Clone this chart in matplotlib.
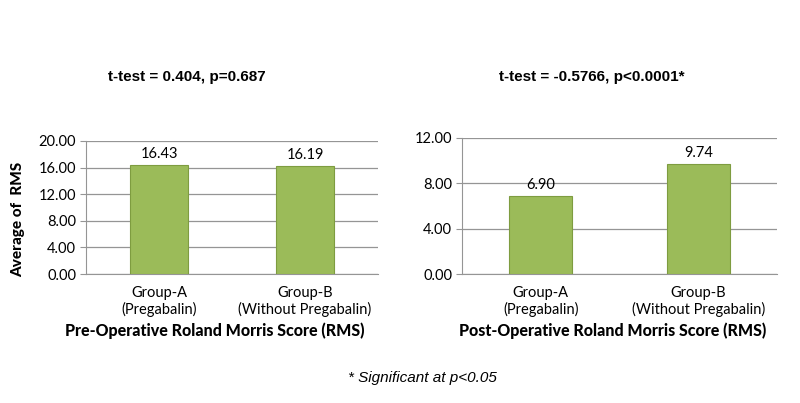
import matplotlib.pyplot as plt

groups = ['Group-A\n(Pregabalin)', 'Group-B\n(Without Pregabalin)']
pre_vals = [16.43, 16.19]
post_vals = [6.90, 9.74]
pre_ticks = [0, 4, 8, 12, 16, 20]
post_ticks = [0, 4, 8, 12]

bar_col = '#9BBB59'
edge_col = '#7E9C40'
grid_col = '#959595'
font = 'Lato'

fig = plt.figure(figsize=(8, 4.03), dpi=100)
W, H = 800, 403


def panel(rect, vals, ticks, xlabel, xlabel_x, title, title_x):
    ax = fig.add_axes([rect[0] / W, 1 - rect[3] / H, (rect[2] - rect[0]) / W, (rect[3] - rect[1]) / H])
    x = range(len(vals))
    ax.bar(x, vals, width=0.4, color=bar_col, edgecolor=edge_col, linewidth=0.8, zorder=3)
    ax.set_xlim(-0.5, len(vals) - 0.5)
    ax.set_ylim(ticks[0], ticks[-1])
    ax.set_yticks(ticks)
    ax.set_yticklabels(['%.2f' % t for t in ticks], fontsize=10.5, family=font)
    ax.set_xticks(list(x))
    ax.set_xticklabels(groups, fontsize=10.5, family=font, linespacing=1.15)
    ax.tick_params(axis='x', length=0, pad=9)
    ax.tick_params(axis='y', length=4, color=grid_col, pad=3)
    ax.yaxis.grid(True, color=grid_col, linewidth=0.9, zorder=0)
    for s in ['top', 'right']:
        ax.spines[s].set_visible(False)
    ax.spines['left'].set_color(grid_col)
    ax.spines['bottom'].set_color(grid_col)
    for i, v in enumerate(vals):
        ax.text(i, v + ticks[-1] * 0.03, '%.2f' % v, ha='center', va='bottom', fontsize=10.5, family=font)
    # x label sits a little off the axes centre in the original
    fig.text(xlabel_x / W, 1 - 331 / H, xlabel, fontsize=11.5, fontweight='black', family=font,
             ha='center', va='center')
    fig.text(title_x / W, 1 - 77 / H, title, fontsize=11, fontweight='bold', family='Liberation Sans',
             ha='center', va='center')
    return ax


ax1 = panel((86, 141, 378, 274), pre_vals, pre_ticks,
            'Pre-Operative Roland Morris Score (RMS)', 215, 't-test = 0.404, p=0.687', 187)
fig.text(18 / W, 1 - 219 / H, 'Average of  RMS', fontsize=11, fontweight='black', family=font,
         rotation=90, ha='center', va='center')
panel((462, 138, 777, 274), post_vals, post_ticks,
      'Post-Operative Roland Morris Score (RMS)', 613, 't-test = -0.5766, p<0.0001*', 592)

fig.text(422 / W, 1 - 378 / H, '* Significant at p<0.05', fontsize=11, style='italic',
         family='Liberation Sans', ha='center', va='center')

fig.savefig('out.png', dpi=100)
